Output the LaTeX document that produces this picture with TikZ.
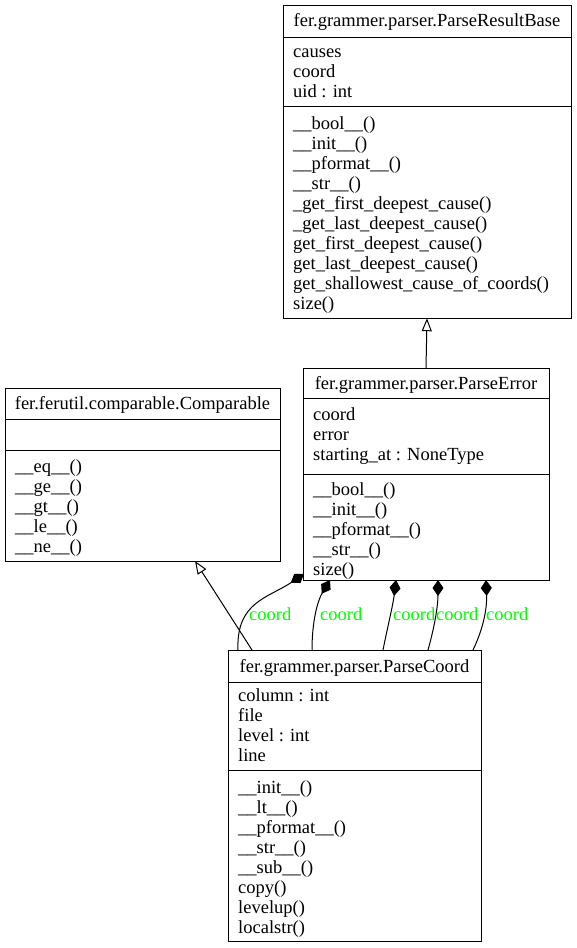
\documentclass[tikz,border=0pt]{standalone}
\usepackage{fontspec}
\setmainfont{Liberation Serif}
\usetikzlibrary{arrows.meta}
\tikzset{
  classbox/.style={draw=black, line width=1pt, fill=white},
  sepline/.style={draw=black, line width=1pt},
  txt/.style={inner sep=0pt, anchor=base west, font=\fontsize{18.5}{20}\selectfont},
  ttl/.style={inner sep=0pt, anchor=base, font=\fontsize{18.5}{20}\selectfont},
  lbl/.style={inner sep=0pt, anchor=base west, text=green, font=\fontsize{18.5}{20}\selectfont},
  inherit/.style={draw=black, line width=1pt, -{Triangle[open,length=13pt,width=10pt]}},
  compose/.style={draw=black, line width=1pt, -{Diamond[length=16pt,width=11pt]}},
}
\begin{document}
\begin{tikzpicture}[x=1pt,y=-1pt]
\useasboundingbox[fill=white] (0,0) rectangle (576,948);

% ParseResultBase
\path[classbox] (283,5) rectangle (571,318);
\node[inner sep=0pt, minimum width=288pt, minimum height=313pt] (prb) at (427,161.5) {};
\draw[sepline] (283,37) -- (571,37);
\draw[sepline] (283,106) -- (571,106);
\node[ttl] (prb-t) at (427,26) {fer.grammer.parser.ParseResultBase};
\foreach \t [count=\i] in {causes,coord,uid : int}
  \node[txt] (prb-a\i) at (293,57+20*\i-20) {\t};
\foreach \t [count=\i] in {\_\_bool\_\_(),\_\_init\_\_(),\_\_pformat\_\_(),\_\_str\_\_(),\_get\_first\_deepest\_cause(),\_get\_last\_deepest\_cause(),get\_first\_deepest\_cause(),get\_last\_deepest\_cause(),get\_shallowest\_cause\_of\_coords(),size()}
  \node[txt] (prb-m\i) at (293,129+20*\i-20) {\t};

% ParseError
\path[classbox] (303,368) rectangle (549,580);
\node[inner sep=0pt, minimum width=246pt, minimum height=212pt] (pe) at (426,474) {};
\draw[sepline] (303,398) -- (549,398);
\draw[sepline] (303,474) -- (549,474);
\node[ttl] (pe-t) at (426,389) {fer.grammer.parser.ParseError};
\foreach \t [count=\i] in {coord,error,starting\_at : NoneType}
  \node[txt] (pe-a\i) at (313,420+20*\i-20) {\t};
\foreach \t [count=\i] in {\_\_bool\_\_(),\_\_init\_\_(),\_\_pformat\_\_(),\_\_str\_\_(),size()}
  \node[txt] (pe-m\i) at (313,495+20*\i-20) {\t};

% Comparable
\path[classbox] (5,388) rectangle (280,561);
\node[inner sep=0pt, minimum width=275pt, minimum height=173pt] (cmp) at (142.5,474.5) {};
\draw[sepline] (5,419) -- (280,419);
\draw[sepline] (5,450) -- (280,450);
\node[ttl] (cmp-t) at (142.5,409) {fer.ferutil.comparable.Comparable};
\foreach \t [count=\i] in {\_\_eq\_\_(),\_\_ge\_\_(),\_\_gt\_\_(),\_\_le\_\_(),\_\_ne\_\_()}
  \node[txt] (cmp-m\i) at (15,472+20*\i-20) {\t};

% ParseCoord
\path[classbox] (228,650) rectangle (481,941);
\node[inner sep=0pt, minimum width=253pt, minimum height=291pt] (pc) at (354.5,795.5) {};
\draw[sepline] (228,682) -- (481,682);
\draw[sepline] (228,770) -- (481,770);
\node[ttl] (pc-t) at (354.5,672) {fer.grammer.parser.ParseCoord};
\foreach \t [count=\i] in {column : int,file,level : int,line}
  \node[txt] (pc-a\i) at (238,701+20*\i-20) {\t};
\foreach \t [count=\i] in {\_\_init\_\_(),\_\_lt\_\_(),\_\_pformat\_\_(),\_\_str\_\_(),\_\_sub\_\_(),copy(),levelup(),localstr()}
  \node[txt] (pc-m\i) at (238,793+20*\i-20) {\t};

% inheritance
\draw[inherit] (pe.north) -- (prb.south);
\coordinate (c0s) at (252,650);
\coordinate (c0e) at (195,561);
\draw[inherit] (c0s) -- (c0e);

% compositions
\coordinate (s1) at (238,650); \coordinate (e1) at (304,574);
\coordinate (s2) at (312,650); \coordinate (e2) at (330,580);
\coordinate (s3) at (383,650); \coordinate (e3) at (396,580);
\coordinate (s4) at (428,650); \coordinate (e4) at (438,580);
\coordinate (s5) at (473,650); \coordinate (e5) at (486,580);
\draw[compose] (s1) .. controls (236,602) and (268,598) .. (e1);
\draw[compose] (s2) .. controls (312,620) and (318,600) .. (e2);
\draw[compose] (s3) .. controls (388,625) and (393,605) .. (e3);
\draw[compose] (s4) .. controls (435,625) and (438,605) .. (e4);
\draw[compose] (s5) .. controls (485,625) and (487,605) .. (e5);
\node[lbl] (l1) at (249,620) {coord};
\node[lbl] (l2) at (320,620) {coord};
\node[lbl] (l3) at (393,620) {coord};
\node[lbl] (l4) at (436,620) {coord};
\node[lbl] (l5) at (486,620) {coord};
\end{tikzpicture}
\end{document}
